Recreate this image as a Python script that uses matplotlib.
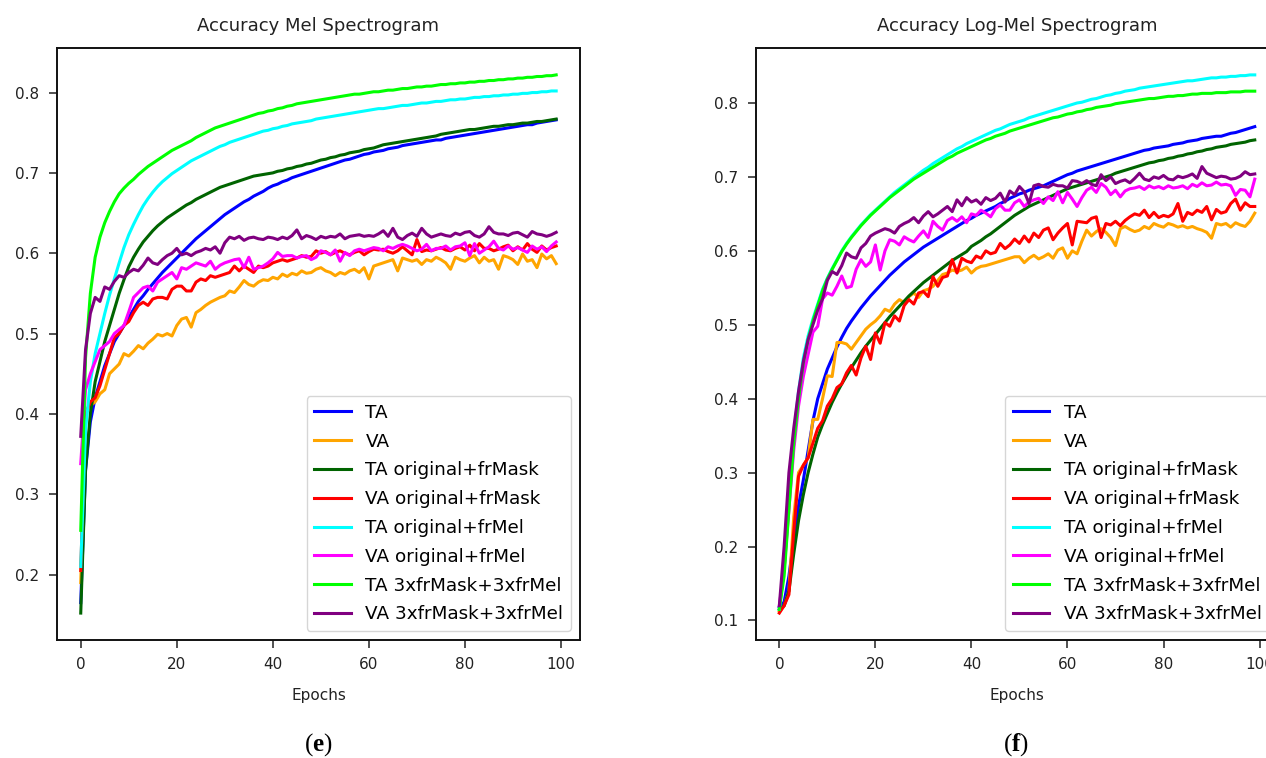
import matplotlib
matplotlib.use("Agg")
import matplotlib.pyplot as plt
import numpy as np

plt.rcParams["font.family"] = ["DejaVu Sans"]
plt.rcParams["mathtext.fontset"] = "custom"
plt.rcParams["mathtext.rm"] = "Liberation Serif"
plt.rcParams["mathtext.bf"] = "Liberation Serif:bold"

epochs = np.arange(100)

labels = ["TA", "VA", "TA original+frMask", "VA original+frMask",
          "TA original+frMel", "VA original+frMel",
          "TA 3xfrMask+3xfrMel", "VA 3xfrMask+3xfrMel"]
colors = ["blue", "orange", "darkgreen", "red", "cyan", "magenta", "lime", "purple"]

# ---------------- Mel spectrogram ----------------
mel_ta = [
    .165, .33, .39, .42, .44, .46, .475, .49, .50, .51,
    .52, .53, .54, .547, .555, .562, .569, .576, .582, .588,
    .594, .600, .606, .612, .618, .623, .628, .633, .638, .643,
    .648, .652, .656, .660, .664, .667, .671, .674, .677, .681,
    .684, .686, .689, .691, .694, .696, .698, .700, .702, .704,
    .706, .708, .710, .712, .714, .716, .717, .719, .721, .723,
    .724, .726, .727, .728, .730, .731, .732, .734, .735, .736,
    .737, .738, .739, .740, .741, .741, .743, .744, .745, .746,
    .747, .748, .749, .750, .751, .752, .753, .754, .755, .756,
    .757, .758, .759, .760, .760, .762, .763, .764, .765, .766]
mel_va = [
    .19, .40, .41, .415, .425, .43, .45, .456, .462, .475,
    .472, .478, .485, .481, .488, .493, .499, .497, .500, .497,
    .510, .518, .520, .508, .526, .530, .535, .539, .542, .545,
    .547, .553, .551, .558, .566, .561, .559, .564, .567, .566,
    .570, .568, .574, .571, .575, .573, .578, .575, .576, .580,
    .582, .578, .576, .572, .576, .574, .578, .580, .576, .582,
    .568, .584, .586, .588, .590, .592, .578, .594, .592, .590,
    .592, .586, .592, .590, .595, .592, .588, .580, .595, .592,
    .590, .594, .597, .588, .595, .590, .592, .580, .597, .595,
    .592, .586, .599, .590, .592, .582, .599, .593, .597, .587]
mel_ta_frmask = [
    .152, .33, .40, .44, .465, .49, .51, .53, .55, .567,
    .583, .595, .605, .614, .621, .628, .634, .639, .644, .648,
    .652, .656, .660, .663, .667, .670, .673, .676, .679, .682,
    .684, .686, .688, .690, .692, .694, .696, .697, .698, .699,
    .700, .702, .703, .705, .706, .708, .709, .711, .712, .714,
    .716, .717, .719, .720, .722, .723, .725, .726, .727, .729,
    .730, .731, .733, .735, .736, .737, .738, .739, .740, .741,
    .742, .743, .744, .745, .746, .748, .749, .750, .751, .752,
    .753, .754, .754, .755, .756, .757, .758, .758, .759, .760,
    .760, .761, .762, .762, .763, .764, .764, .765, .766, .767]
mel_va_frmask = [
    .205, .40, .415, .42, .435, .455, .475, .495, .50, .51,
    .515, .526, .535, .539, .535, .543, .545, .545, .543, .555,
    .559, .559, .553, .553, .564, .568, .566, .572, .570, .572,
    .574, .576, .584, .578, .584, .580, .576, .584, .582, .584,
    .588, .590, .592, .590, .592, .594, .597, .595, .596, .603,
    .600, .602, .598, .601, .603, .600, .598, .601, .603, .598,
    .602, .605, .604, .605, .602, .600, .603, .608, .603, .598,
    .617, .602, .604, .603, .605, .607, .604, .603, .606, .608,
    .604, .610, .603, .612, .606, .606, .603, .605, .608, .610,
    .603, .608, .604, .612, .605, .601, .609, .604, .607, .609]
mel_ta_frmel = [
    .210, .38, .44, .475, .50, .525, .548, .568, .588, .607,
    .623, .636, .648, .659, .668, .676, .683, .689, .694, .699,
    .703, .707, .711, .715, .718, .721, .724, .727, .730, .733,
    .735, .738, .740, .742, .744, .746, .748, .750, .752, .753,
    .755, .756, .758, .759, .761, .762, .763, .764, .765, .767,
    .768, .769, .770, .771, .772, .773, .774, .775, .776, .777,
    .778, .779, .780, .780, .781, .782, .783, .784, .784, .785,
    .786, .787, .787, .788, .789, .789, .790, .791, .791, .792,
    .792, .793, .794, .794, .795, .795, .796, .796, .797, .797,
    .798, .798, .799, .799, .800, .800, .801, .801, .802, .802]
mel_va_frmel = [
    .338, .43, .45, .465, .48, .485, .49, .50, .505, .51,
    .527, .545, .551, .557, .559, .553, .564, .568, .572, .576,
    .568, .582, .580, .584, .588, .586, .584, .590, .580, .585,
    .588, .590, .592, .593, .582, .595, .580, .582, .584, .588,
    .593, .601, .596, .597, .597, .594, .596, .597, .592, .595,
    .603, .601, .598, .604, .590, .601, .597, .603, .605, .603,
    .605, .607, .606, .603, .608, .606, .609, .611, .609, .606,
    .603, .605, .611, .603, .606, .606, .609, .604, .608, .609,
    .613, .597, .612, .600, .604, .608, .615, .606, .604, .609,
    .605, .607, .604, .601, .609, .605, .608, .602, .609, .614]
mel_ta_3x = [
    .255, .47, .55, .595, .62, .638, .652, .664, .674, .681,
    .687, .692, .698, .703, .708, .712, .716, .720, .724, .728,
    .731, .734, .737, .740, .744, .747, .750, .753, .756, .758,
    .760, .762, .764, .766, .768, .770, .772, .774, .775, .777,
    .778, .780, .781, .783, .784, .786, .787, .788, .789, .790,
    .791, .792, .793, .794, .795, .796, .797, .798, .798, .799,
    .800, .801, .801, .802, .803, .803, .804, .805, .805, .806,
    .807, .807, .808, .808, .809, .810, .810, .811, .811, .812,
    .812, .813, .813, .814, .814, .815, .815, .816, .816, .817,
    .817, .818, .818, .819, .819, .820, .820, .821, .821, .822]
mel_va_3x = [
    .372, .48, .525, .545, .54, .558, .555, .565, .572, .570,
    .576, .580, .578, .585, .594, .588, .586, .592, .597, .600,
    .606, .598, .600, .597, .601, .603, .606, .604, .608, .600,
    .613, .620, .618, .621, .616, .619, .620, .618, .617, .620,
    .619, .617, .620, .618, .622, .629, .618, .622, .620, .617,
    .621, .619, .621, .620, .624, .618, .621, .622, .623, .621,
    .622, .621, .624, .628, .621, .631, .620, .617, .622, .625,
    .621, .631, .624, .620, .622, .624, .622, .621, .625, .623,
    .626, .627, .622, .620, .624, .633, .626, .624, .624, .622,
    .625, .626, .623, .620, .627, .624, .623, .621, .623, .626]

# ---------------- Log-Mel spectrogram ----------------
log_ta = [
    .118, .125, .16, .21, .255, .29, .33, .37, .40, .42,
    .44, .455, .47, .483, .495, .505, .514, .523, .531, .539,
    .546, .553, .560, .567, .573, .579, .585, .590, .595, .600,
    .605, .609, .613, .617, .621, .625, .629, .633, .637, .641,
    .644, .648, .651, .654, .657, .660, .664, .667, .671, .674,
    .677, .679, .682, .684, .686, .688, .691, .694, .697, .700,
    .703, .705, .708, .710, .712, .714, .716, .718, .720, .722,
    .724, .726, .728, .730, .732, .734, .736, .737, .739, .740,
    .741, .742, .744, .745, .746, .748, .749, .750, .752, .753,
    .754, .755, .755, .757, .759, .760, .762, .764, .766, .768]
log_va = [
    .112, .12, .14, .24, .30, .31, .32, .372, .372, .40,
    .431, .43, .476, .476, .474, .467, .476, .485, .494, .50,
    .505, .512, .521, .518, .528, .534, .530, .538, .543, .537,
    .546, .548, .552, .560, .568, .570, .574, .572, .574, .578,
    .570, .576, .579, .580, .582, .584, .586, .588, .590, .592,
    .592, .584, .590, .594, .589, .592, .596, .590, .601, .604,
    .590, .600, .596, .613, .628, .620, .626, .630, .625, .618,
    .607, .630, .633, .629, .626, .628, .633, .630, .637, .634,
    .632, .637, .635, .632, .634, .631, .633, .630, .628, .625,
    .617, .637, .635, .637, .632, .638, .635, .633, .640, .651]
log_ta_frmask = [
    .115, .12, .14, .19, .235, .27, .30, .325, .348, .365,
    .38, .395, .408, .42, .431, .442, .452, .462, .471, .479,
    .487, .495, .503, .511, .518, .525, .532, .539, .545, .551,
    .557, .562, .567, .572, .577, .582, .587, .591, .595, .599,
    .606, .610, .614, .619, .623, .628, .633, .638, .643, .648,
    .652, .656, .660, .663, .666, .669, .672, .675, .678, .681,
    .684, .686, .688, .690, .692, .694, .696, .698, .700, .702,
    .705, .707, .709, .711, .713, .715, .717, .719, .720, .722,
    .723, .725, .726, .728, .729, .731, .732, .734, .735, .737,
    .738, .740, .741, .742, .744, .745, .746, .747, .749, .750]
log_va_frmask = [
    .11, .12, .135, .22, .295, .31, .32, .34, .36, .37,
    .39, .40, .415, .42, .435, .445, .432, .455, .471, .453,
    .489, .475, .503, .498, .512, .505, .526, .534, .528, .543,
    .545, .538, .565, .552, .564, .566, .588, .570, .590, .586,
    .584, .593, .590, .600, .596, .598, .610, .603, .608, .616,
    .610, .620, .612, .624, .618, .628, .631, .615, .624, .631,
    .637, .608, .640, .639, .638, .644, .646, .618, .637, .635,
    .640, .634, .641, .646, .650, .648, .655, .645, .652, .645,
    .648, .646, .650, .664, .640, .652, .649, .655, .652, .660,
    .642, .656, .651, .653, .664, .670, .655, .665, .660, .660]
log_ta_frmel = [
    .115, .17, .26, .35, .41, .455, .485, .508, .528, .548,
    .563, .576, .588, .600, .610, .619, .627, .635, .642, .649,
    .655, .661, .667, .673, .679, .684, .689, .694, .699, .704,
    .709, .713, .718, .722, .726, .730, .734, .738, .741, .745,
    .748, .751, .754, .757, .760, .763, .765, .768, .771, .773,
    .775, .777, .780, .782, .784, .786, .788, .790, .792, .794,
    .796, .798, .800, .801, .803, .805, .806, .808, .810, .811,
    .813, .814, .816, .817, .818, .820, .821, .822, .823, .824,
    .825, .826, .827, .828, .829, .830, .830, .831, .832, .833,
    .834, .834, .835, .835, .836, .836, .837, .837, .838, .838]
log_va_frmel = [
    .12, .17, .25, .33, .39, .43, .46, .49, .498, .535,
    .543, .540, .552, .566, .550, .552, .575, .588, .579, .585,
    .608, .574, .600, .615, .613, .608, .619, .615, .612, .620,
    .627, .618, .640, .633, .628, .641, .645, .640, .646, .638,
    .650, .648, .655, .651, .646, .657, .662, .655, .655, .665,
    .669, .660, .666, .669, .671, .664, .673, .668, .680, .665,
    .679, .670, .660, .672, .682, .686, .679, .691, .686, .676,
    .682, .673, .681, .684, .685, .687, .683, .688, .685, .687,
    .684, .688, .685, .686, .688, .684, .690, .687, .692, .688,
    .689, .693, .689, .690, .688, .675, .683, .682, .673, .697]
log_ta_3x = [
    .115, .16, .25, .34, .40, .448, .48, .505, .526, .546,
    .562, .575, .587, .599, .609, .618, .626, .634, .641, .648,
    .654, .660, .666, .672, .677, .682, .687, .692, .697, .701,
    .705, .709, .713, .717, .721, .725, .728, .732, .735, .738,
    .741, .744, .747, .750, .752, .755, .757, .759, .762, .764,
    .766, .768, .770, .772, .774, .776, .778, .780, .781, .783,
    .785, .786, .788, .789, .791, .792, .794, .795, .796, .797,
    .799, .800, .801, .802, .803, .804, .805, .806, .806, .807,
    .808, .809, .809, .810, .810, .811, .812, .812, .813, .813,
    .813, .814, .814, .814, .815, .815, .815, .816, .816, .816]
log_va_3x = [
    .12, .20, .30, .36, .41, .45, .48, .50, .52, .535,
    .56, .572, .568, .58, .597, .592, .59, .604, .61, .62,
    .624, .627, .63, .628, .624, .633, .637, .640, .645, .638,
    .647, .653, .646, .650, .655, .660, .653, .669, .661, .672,
    .666, .669, .663, .672, .668, .671, .678, .666, .681, .676,
    .687, .680, .664, .688, .690, .687, .686, .690, .688, .688,
    .685, .695, .694, .691, .695, .690, .688, .703, .695, .700,
    .691, .694, .696, .692, .698, .705, .697, .695, .700, .698,
    .702, .697, .696, .701, .699, .701, .704, .698, .714, .705,
    .702, .699, .701, .700, .697, .698, .701, .707, .703, .704]

mel_series = [mel_ta, mel_va, mel_ta_frmask, mel_va_frmask,
              mel_ta_frmel, mel_va_frmel, mel_ta_3x, mel_va_3x]
log_series = [log_ta, log_va, log_ta_frmask, log_va_frmask,
              log_ta_frmel, log_va_frmel, log_ta_3x, log_va_3x]

fig = plt.figure(figsize=(12.66, 7.58), dpi=100)
ax_l = fig.add_axes([0.0450, 0.1557, 0.4131, 0.7810])
ax_r = fig.add_axes([0.5968, 0.1557, 0.4131, 0.7810])


def draw(ax, series, title):
    for vals, lab, col in zip(series, labels, colors):
        ax.plot(epochs, vals, color=col, lw=2.2, label=lab)
    ax.set_title(title, fontsize=13, pad=12, color="#222222")
    ax.set_xlabel("Epochs", fontsize=11, color="#222222", labelpad=11)
    ax.set_xticks([0, 20, 40, 60, 80, 100])
    ax.tick_params(labelsize=11, colors="#222222", length=5.5, width=1.1, pad=7)
    for sp in ax.spines.values():
        sp.set_linewidth(1.4)
        sp.set_color("#111111")
    ax.legend(loc="lower right", fontsize=13.2, handlelength=2.0,
              labelspacing=0.59)


draw(ax_l, mel_series, "Accuracy Mel Spectrogram")
draw(ax_r, log_series, "Accuracy Log-Mel Spectrogram")
ax_l.set_yticks([0.2, 0.3, 0.4, 0.5, 0.6, 0.7, 0.8])
ax_r.set_yticks([0.1, 0.2, 0.3, 0.4, 0.5, 0.6, 0.7, 0.8])

fig.text(0.2516, 0.018, r"($\mathbf{e}$)", ha="center", va="center",
         fontsize=18, family="Liberation Serif")
fig.text(0.8025, 0.018, r"($\mathbf{f}$)", ha="center", va="center",
         fontsize=18, family="Liberation Serif")

fig.savefig("out.png", dpi=100)
